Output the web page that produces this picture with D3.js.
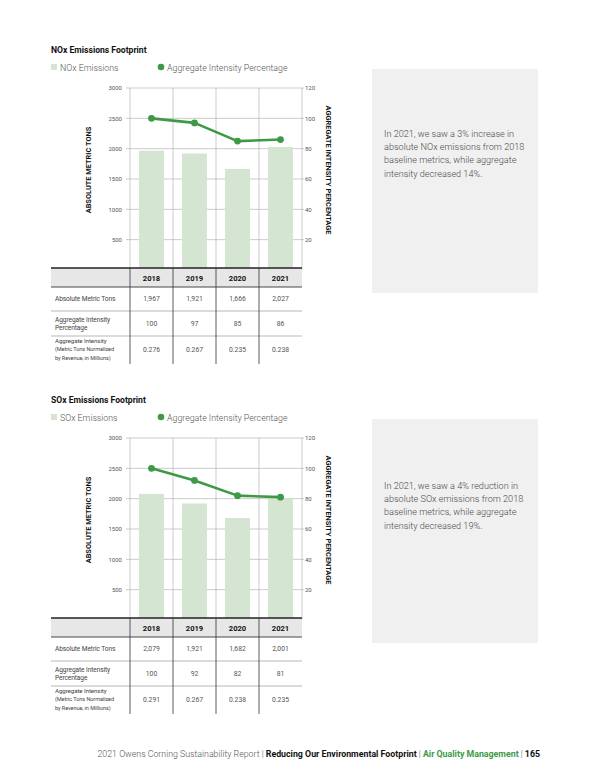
<!DOCTYPE html>
<html>
<head>
<meta charset="utf-8">
<script src="https://cdn.jsdelivr.net/npm/d3@7"></script>
<style>
  html, body { margin: 0; padding: 0; background: #fff; }
  svg { display: block; font-family: Roboto, "Noto Sans", sans-serif; }
</style>
</head>
<body>
<svg id="chart" width="600" height="776"></svg>
<script>
// ---- data ----
const years = ["2018", "2019", "2020", "2021"];
const leftTicks = [500, 1000, 1500, 2000, 2500, 3000];
const rightTicks = [20, 40, 60, 80, 100, 120];

const noxTons = [1967, 1921, 1666, 2027];
const noxIntensityPct = [100, 97, 85, 86];
const noxIntensityNorm = ["0.276", "0.267", "0.235", "0.238"];
const noxNote = ["In 2021, we saw a 3% increase in", "absolute NOx emissions from 2018", "baseline metrics, while aggregate", "intensity decreased 14%."];

const soxTons = [2079, 1921, 1682, 2001];
const soxIntensityPct = [100, 92, 82, 81];
const soxIntensityNorm = ["0.291", "0.267", "0.238", "0.235"];
const soxNote = ["In 2021, we saw a 4% reduction in", "absolute SOx emissions from 2018", "baseline metrics, while aggregate", "intensity decreased 19%."];

const rowLabels = [
  [{t: "Absolute Metric Tons", s: 6.6}],
  [{t: "Aggregate Intensity", s: 6.6}, {t: "Percentage", s: 6.6}],
  [{t: "Aggregate Intensity", s: 6.2}, {t: "(Metric Tons Normalized", s: 5.6}, {t: "by Revenue, in Millions)", s: 5.6}]
];

const panels = [
  {title: "NOx Emissions Footprint", legend: "NOx Emissions", tons: noxTons, pct: noxIntensityPct, norm: noxIntensityNorm, note: noxNote, dy: 0},
  {title: "SOx Emissions Footprint", legend: "SOx Emissions", tons: soxTons, pct: soxIntensityPct, norm: soxIntensityNorm, note: soxNote, dy: 350}
];

// ---- styles ----
const barColor = "#d4e6d1";
const lineColor = "#3c9a47";
const gridColor = "#b5b5b5";
const textGray = "#555";

const svg = d3.select("#chart");

const plotL = 130, plotR = 302, plotTop = 88, plotBottom = 270;
const tableL = 51;

function fmt(n) { return d3.format(",")(n); }

panels.forEach(p => {
  const g = svg.append("g").attr("transform", `translate(0,${p.dy})`);

  // title
  g.append("text").attr("x", 51).attr("y", 53).attr("font-size", 8.6).attr("font-weight", 700)
    .attr("fill", "#111").text(p.title);

  // legend
  g.append("rect").attr("x", 51).attr("y", 64).attr("width", 6).attr("height", 6).attr("fill", barColor);
  g.append("text").attr("x", 60).attr("y", 70.5).attr("font-size", 8.8).attr("font-weight", 300).attr("fill", textGray).text(p.legend);
  g.append("circle").attr("cx", 161).attr("cy", 67).attr("r", 3.3).attr("fill", lineColor);
  g.append("text").attr("x", 167).attr("y", 70.5).attr("font-size", 8.8).attr("font-weight", 300).attr("fill", textGray).text("Aggregate Intensity Percentage");

  // scales
  const x = d3.scaleBand().domain(years).range([plotL, plotR]).paddingInner(0.42).paddingOuter(0.21);
  const yL = d3.scaleLinear().domain([0, 3000]).range([plotBottom, plotTop]);
  const yR = d3.scaleLinear().domain([0, 120]).range([plotBottom, plotTop]);
  const step = x.step();
  const colEdges = d3.range(years.length + 1).map(i => plotL + i * step);

  // horizontal grid
  g.append("g").selectAll("line").data(leftTicks).join("line")
    .attr("x1", plotL - 4).attr("x2", plotR + 2)
    .attr("y1", d => yL(d)).attr("y2", d => yL(d))
    .attr("stroke", gridColor).attr("stroke-width", 0.7);

  // vertical grid (plot area)
  g.append("g").selectAll("line").data(colEdges).join("line")
    .attr("x1", d => d).attr("x2", d => d)
    .attr("y1", plotTop).attr("y2", plotBottom)
    .attr("stroke", gridColor).attr("stroke-width", 0.7);

  // left axis labels
  const axL = g.append("g").attr("transform", `translate(${plotL - 8},0)`)
    .call(d3.axisLeft(yL).tickValues(leftTicks).tickFormat(d3.format("d")).tickSize(0).tickPadding(0));
  axL.select(".domain").remove();
  axL.selectAll("text").attr("font-size", 6).attr("fill", textGray).attr("font-family", "Roboto, sans-serif");

  const axR = g.append("g").attr("transform", `translate(${plotR + 3},0)`)
    .call(d3.axisRight(yR).tickValues(rightTicks).tickFormat(d3.format("d")).tickSize(0).tickPadding(0));
  axR.select(".domain").remove();
  axR.selectAll("text").attr("font-size", 6).attr("fill", textGray).attr("font-family", "Roboto, sans-serif");

  // axis titles
  g.append("text").attr("transform", `translate(91,170) rotate(-90)`).attr("text-anchor", "middle")
    .attr("font-size", 7.4).attr("font-weight", 700).attr("fill", "#111").text("ABSOLUTE METRIC TONS");
  g.append("text").attr("transform", `translate(326,170) rotate(90)`).attr("text-anchor", "middle")
    .attr("font-size", 7.4).attr("font-weight", 700).attr("fill", "#111").text("AGGREGATE INTENSITY PERCENTAGE");

  // bars
  g.append("g").selectAll("rect").data(years).join("rect")
    .attr("x", d => x(d)).attr("width", x.bandwidth())
    .attr("y", (d, i) => yL(p.tons[i])).attr("height", (d, i) => plotBottom - yL(p.tons[i]))
    .attr("fill", barColor);

  // line
  const line = d3.line().x((d, i) => x(years[i]) + x.bandwidth() / 2).y(d => yR(d));
  g.append("path").datum(p.pct).attr("d", line).attr("fill", "none")
    .attr("stroke", lineColor).attr("stroke-width", 2.6).attr("stroke-linejoin", "round");
  g.append("g").selectAll("circle").data(p.pct).join("circle")
    .attr("cx", (d, i) => x(years[i]) + x.bandwidth() / 2).attr("cy", d => yR(d))
    .attr("r", 3.4).attr("fill", lineColor);

  // table
  const hTop = 268, hBot = 287;
  const rowBounds = [287, 311, 336, 362];
  g.append("rect").attr("x", tableL).attr("y", hTop).attr("width", plotR - tableL).attr("height", hBot - hTop).attr("fill", "#e7e7e7");
  g.append("line").attr("x1", tableL).attr("x2", plotR).attr("y1", hTop).attr("y2", hTop).attr("stroke", "#222").attr("stroke-width", 1.6);
  g.append("line").attr("x1", tableL).attr("x2", plotR).attr("y1", hBot).attr("y2", hBot).attr("stroke", "#333").attr("stroke-width", 0.9);
  g.append("g").selectAll("line").data([311, 336]).join("line")
    .attr("x1", tableL).attr("x2", plotR).attr("y1", d => d).attr("y2", d => d)
    .attr("stroke", "#9a9a9a").attr("stroke-width", 0.7);
  g.append("g").selectAll("line").data(colEdges.slice(0, years.length)).join("line")
    .attr("x1", d => d).attr("x2", d => d).attr("y1", hTop).attr("y2", 364)
    .attr("stroke", "#333").attr("stroke-width", 0.8);

  // header text
  g.append("g").selectAll("text").data(years).join("text")
    .attr("x", d => x(d) + x.bandwidth() / 2).attr("y", 280.5).attr("text-anchor", "middle")
    .attr("font-size", 7.6).attr("font-weight", 700).attr("fill", "#111").text(d => d);

  // row labels
  rowLabels.forEach((lines, r) => {
    const mid = (rowBounds[r] + rowBounds[r + 1]) / 2;
    const lh = 8.2;
    const start = mid - (lines.length - 1) * lh / 2;
    lines.forEach((ln, k) => {
      g.append("text").attr("x", 55).attr("y", start + k * lh + 2.3)
        .attr("font-size", ln.s).attr("fill", "#444").attr("letter-spacing", -0.1).text(ln.t);
    });
  });

  // row values
  const rows = [p.tons.map(fmt), p.pct.map(String), p.norm];
  const rowY = [301, 325.5, 351.5];
  rows.forEach((vals, r) => {
    g.append("g").selectAll("text").data(vals).join("text")
      .attr("x", (d, i) => x(years[i]) + x.bandwidth() / 2).attr("y", rowY[r]).attr("text-anchor", "middle")
      .attr("font-size", 6.8).attr("fill", "#555").text(d => d);
  });

  // note box
  g.append("rect").attr("x", 372).attr("y", 69).attr("width", 166).attr("height", 224).attr("fill", "#f0f0f0");
  g.append("g").selectAll("text").data(p.note).join("text")
    .attr("x", 384).attr("y", (d, i) => 137 + i * 13.2 + (p.dy ? 2 : 0))
    .attr("font-size", 9.1).attr("font-weight", 300).attr("fill", "#4a4a4a").text(d => d);
});

// footer
const footer = svg.append("text").attr("x", 540).attr("y", 757).attr("text-anchor", "end").attr("font-size", 8.8);
footer.append("tspan").attr("fill", "#555").attr("font-weight", 300).text("2021 Owens Corning Sustainability Report | ");
footer.append("tspan").attr("fill", "#111").attr("font-weight", 700).text("Reducing Our Environmental Footprint");
footer.append("tspan").attr("fill", "#555").attr("font-weight", 300).text(" | ");
footer.append("tspan").attr("fill", "#3c9a47").attr("font-weight", 700).text("Air Quality Management");
footer.append("tspan").attr("fill", "#555").attr("font-weight", 300).text(" | ");
footer.append("tspan").attr("fill", "#111").attr("font-weight", 700).text("165");
</script>
</body>
</html>
